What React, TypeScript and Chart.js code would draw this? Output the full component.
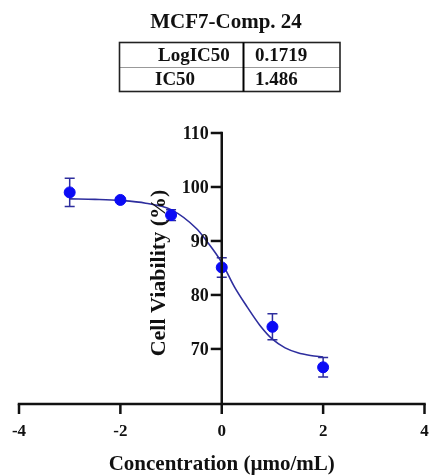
import React, { useEffect, useRef } from "react";
import { Chart, registerables } from "chart.js";

Chart.register(...registerables);

const chartTitle = "MCF7-Comp. 24";
const tableLabels = ["LogIC50", "IC50"];
const tableValues = ["0.1719", "1.486"];

const xTitle = "Concentration (\u00b5mo/mL)";
const yTitle = "Cell Viability (%)";

const xTicks = [-4, -2, 0, 2, 4];
const yTicks = [70, 80, 90, 100, 110];

// measured points
const logConc = [-3, -2, -1, 0, 1, 2];
const viability = [99.0, 97.6, 94.8, 85.1, 74.1, 66.6];
const sem = [2.6, 0.3, 1.0, 1.8, 2.4, 1.8];

// fitted curve
const curveX = [-3, -2.5, -2, -1.5, -1, -0.5, -0.3, 0, 0.25, 0.5, 0.75, 1, 1.25, 1.5, 1.75, 2];
const curveY = [97.8, 97.7, 97.5, 97.0, 95.8, 92.3, 90.0, 86.0, 81.5, 77.8, 74.4, 71.8, 70.2, 69.3, 68.8, 68.5];

const FONT = "'Liberation Serif', 'Times New Roman', serif";
const POINT_COLOR = "#0b0bf5";
const LINE_COLOR = "#2e2e9e";
const AXIS_COLOR = "#111";

const overlayPlugin = {
  id: "overlay",
  beforeDatasetsDraw(chart: any) {
    const { ctx, scales } = chart;
    const xs = scales.x;
    const ys = scales.y;
    ctx.save();
    ctx.strokeStyle = LINE_COLOR;
    ctx.lineWidth = 1.5;
    for (let i = 0; i < logConc.length; i++) {
      const px = xs.getPixelForValue(logConc[i]);
      const top = ys.getPixelForValue(viability[i] + sem[i]);
      const bot = ys.getPixelForValue(viability[i] - sem[i]);
      ctx.beginPath();
      ctx.moveTo(px, top);
      ctx.lineTo(px, bot);
      ctx.moveTo(px - 5, top);
      ctx.lineTo(px + 5, top);
      ctx.moveTo(px - 5, bot);
      ctx.lineTo(px + 5, bot);
      ctx.stroke();
    }
    ctx.restore();
  },
  afterDraw(chart: any) {
    const { ctx, scales, chartArea } = chart;
    const xs = scales.x;
    const ys = scales.y;
    ctx.save();

    const ax = xs.getPixelForValue(0);
    const ay = chartArea.bottom;
    const yTop = ys.getPixelForValue(yTicks[yTicks.length - 1]);

    ctx.strokeStyle = AXIS_COLOR;
    ctx.lineWidth = 2.5;
    ctx.lineCap = "square";
    // axis lines
    ctx.beginPath();
    ctx.moveTo(ax, yTop);
    ctx.lineTo(ax, ay);
    ctx.moveTo(xs.getPixelForValue(xTicks[0]), ay);
    ctx.lineTo(xs.getPixelForValue(xTicks[xTicks.length - 1]), ay);
    ctx.stroke();
    ctx.lineCap = "butt";

    // y ticks and labels
    ctx.fillStyle = AXIS_COLOR;
    ctx.font = `bold 18px ${FONT}`;
    ctx.textAlign = "right";
    ctx.textBaseline = "middle";
    for (const v of yTicks) {
      const py = ys.getPixelForValue(v);
      ctx.beginPath();
      ctx.moveTo(ax - 11, py);
      ctx.lineTo(ax, py);
      ctx.stroke();
      ctx.fillText(String(v), ax - 13, py + 1);
    }

    // x ticks and labels
    ctx.font = `bold 17px ${FONT}`;
    ctx.textAlign = "center";
    for (const v of xTicks) {
      const px = xs.getPixelForValue(v);
      ctx.beginPath();
      ctx.moveTo(px, ay);
      ctx.lineTo(px, ay + 10);
      ctx.stroke();
      ctx.fillText(String(v), px, ay + 28);
    }

    // x title
    ctx.font = `bold 21px ${FONT}`;
    ctx.fillText(xTitle, ax, 465);

    // title
    ctx.font = `bold 21px ${FONT}`;
    ctx.fillText(chartTitle, 226, 23);

    // table
    const left = 119.5, right = 340, top = 42.5, mid = 67.5, bottom = 91.5, div = 243.5;
    ctx.strokeStyle = "#999";
    ctx.lineWidth = 1;
    ctx.beginPath();
    ctx.moveTo(left, mid);
    ctx.lineTo(right, mid);
    ctx.stroke();
    ctx.strokeStyle = "#222";
    ctx.lineWidth = 1.6;
    ctx.strokeRect(left, top, right - left, bottom - top);
    ctx.strokeStyle = "#000";
    ctx.lineWidth = 2;
    ctx.beginPath();
    ctx.moveTo(div, top);
    ctx.lineTo(div, bottom);
    ctx.stroke();

    ctx.font = `bold 19px ${FONT}`;
    ctx.textAlign = "left";
    ctx.fillStyle = AXIS_COLOR;
    const rows = [(top + mid) / 2 + 1, (mid + bottom) / 2 + 1];
    const labelX = [158, 155];
    for (let i = 0; i < tableLabels.length; i++) {
      ctx.fillText(tableLabels[i], labelX[i], rows[i]);
      ctx.fillText(tableValues[i], 255, rows[i]);
    }

    // y title
    ctx.font = `bold 22px ${FONT}`;
    ctx.textAlign = "center";
    ctx.textBaseline = "middle";
    ctx.translate(159, 273);
    ctx.rotate(-Math.PI / 2);
    ctx.fillText(yTitle, 0, 0);
    ctx.restore();
  },
};

export default function App() {
  const ref = useRef<HTMLCanvasElement | null>(null);
  useEffect(() => {
    if (!ref.current) return;
    const chart = new Chart(ref.current, {
      type: "scatter",
      data: {
        datasets: [
          {
            label: "data",
            data: logConc.map((x, i) => ({ x, y: viability[i] })),
            backgroundColor: POINT_COLOR,
            borderColor: POINT_COLOR,
            pointRadius: 5.5,
            pointHoverRadius: 5.5,
            showLine: false,
            clip: false,
          } as any,
          {
            label: "fit",
            type: "line",
            data: curveX.map((x, i) => ({ x, y: curveY[i] })),
            borderColor: LINE_COLOR,
            borderWidth: 1.6,
            pointRadius: 0,
            fill: false,
            clip: false,
            cubicInterpolationMode: "monotone",
          } as any,
        ],
      },
      options: {
        animation: false,
        responsive: false,
        maintainAspectRatio: false,
        layout: { padding: { left: 19, right: 4, top: 133, bottom: 71 } },
        plugins: { legend: { display: false }, tooltip: { enabled: false }, title: { display: false } },
        scales: {
          x: { type: "linear", min: -4, max: 4, display: false },
          y: { type: "linear", min: 59.8, max: 110, display: false },
        },
      },
      plugins: [overlayPlugin],
    });
    return () => chart.destroy();
  }, []);
  return (
    <div style={{ position: "absolute", left: 0, top: 0, width: 431, height: 475, background: "#fff" }}>
      <canvas ref={ref} width={431} height={475} style={{ display: "block", width: 431, height: 475 }} />
    </div>
  );
}
